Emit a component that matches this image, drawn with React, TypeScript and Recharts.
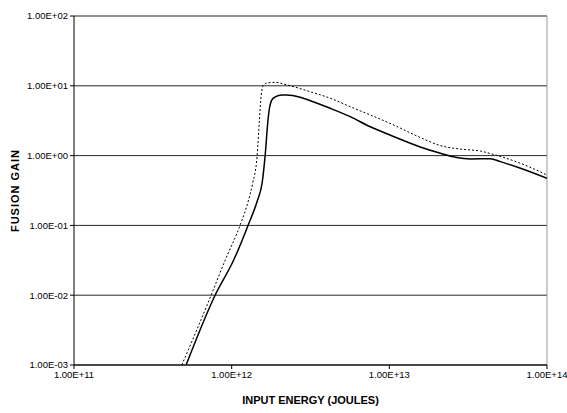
import { LineChart, Line, XAxis, YAxis, CartesianGrid, ReferenceLine } from "recharts"

// solid curve
const solidEnergy = [
  5.14e11, 7.85e11, 1.03e12, 1.27e12, 1.46e12, 1.56e12, 1.63e12, 1.7e12, 1.73e12, 1.8e12,
  1.89e12, 2.08e12, 2.24e12, 2.72e12, 3.15e12, 4.22e12, 5.65e12, 7.57e12, 1.01e13, 1.57e13,
  2.11e13, 2.63e13, 3.27e13, 4.37e13, 5.07e13, 6.79e13, 1e14,
]
const solidGain = [
  0.001, 0.01, 0.0319, 0.1, 0.231, 0.405, 0.99, 3.24, 4.5, 6.27,
  6.92, 7.38, 7.38, 6.84, 6.12, 4.76, 3.61, 2.59, 1.97, 1.33,
  1.08, 0.946, 0.894, 0.903, 0.819, 0.658, 0.473,
]

// dotted curve
const dottedEnergy = [
  4.83e11, 7.41e11, 9.1e11, 1.13e12, 1.28e12, 1.36e12, 1.45e12, 1.5e12, 1.53e12, 1.58e12,
  1.67e12, 1.89e12, 2.24e12, 3.15e12, 4.22e12, 5.65e12, 7.57e12, 1.01e13, 1.57e13, 2.11e13,
  2.82e13, 3.79e13, 4.71e13, 6.79e13, 1e14,
]
const dottedGain = [
  0.001, 0.01, 0.0319, 0.1, 0.231, 0.405, 0.99, 3.24, 6.27, 9.93,
  10.96, 11.2, 10.3, 8.22, 6.63, 5.02, 3.82, 2.9, 1.82, 1.39,
  1.24, 1.16, 1.02, 0.776, 0.527,
]

const xTicks = [1e11, 1e12, 1e13, 1e14]
const yTicks = [1e-3, 1e-2, 1e-1, 1e0, 1e1, 1e2]

const solidData = solidEnergy.map((energy, i) => ({ energy, gain: solidGain[i] }))
const dottedData = dottedEnergy.map((energy, i) => ({ energy, gain: dottedGain[i] }))

const font = "'Liberation Sans', Arial, sans-serif"

// excel style 1.00E+02
function sci(v: number) {
  const [m, e] = v.toExponential(2).toUpperCase().split("E")
  const sign = e[0] === "-" ? "-" : "+"
  const digits = e.replace(/[+-]/, "").padStart(2, "0")
  return `${m}E${sign}${digits}`
}

function YTitle(props: any) {
  const vb = props.viewBox || { y: 16, height: 349 }
  const cy = vb.y + vb.height / 2
  return (
    <text
      x={15}
      y={cy}
      transform={`rotate(-90 15 ${cy})`}
      textAnchor="middle"
      dominantBaseline="central"
      fontFamily={font}
      fontSize={11}
      fontWeight="bold"
      letterSpacing={1}
      fill="#000"
    >
      FUSION GAIN
    </text>
  )
}

export default function App() {
  return (
    <div style={{ position: "absolute", left: 0, top: 0, background: "#fff" }}>
      <LineChart width={567} height={413} margin={{ top: 16, right: 20, bottom: 0, left: 0 }}>
        <CartesianGrid vertical={false} stroke="#000" strokeOpacity={0.85} />
        <XAxis
          dataKey="energy"
          type="number"
          scale="log"
          domain={[1e11, 1e14]}
          ticks={xTicks}
          allowDataOverflow
          tickFormatter={sci}
          height={48}
          tickSize={4}
          tickLine={{ stroke: "#000" }}
          axisLine={{ stroke: "#000" }}
          tick={{ fontSize: 9.5, fill: "#000", fontFamily: font }}
          label={{
            value: "INPUT ENERGY (JOULES)",
            position: "insideBottom",
            offset: 9,
            style: { fontSize: 11, fontWeight: "bold", fill: "#000", fontFamily: font },
          }}
        />
        <YAxis
          dataKey="gain"
          type="number"
          scale="log"
          domain={[1e-3, 1e2]}
          ticks={yTicks}
          allowDataOverflow
          tickFormatter={sci}
          width={74}
          tickSize={4}
          tickLine={{ stroke: "#000" }}
          axisLine={{ stroke: "#000" }}
          tick={{ fontSize: 9.5, fill: "#000", fontFamily: font }}
          label={<YTitle />}
        />
        <ReferenceLine x={1e14} stroke="#999" />
        <Line
          data={dottedData}
          dataKey="gain"
          type="monotone"
          stroke="#000"
          strokeWidth={1}
          strokeDasharray="2 2"
          dot={false}
          isAnimationActive={false}
        />
        <Line
          data={solidData}
          dataKey="gain"
          type="monotone"
          stroke="#000"
          strokeWidth={1.5}
          dot={false}
          isAnimationActive={false}
        />
      </LineChart>
    </div>
  )
}
